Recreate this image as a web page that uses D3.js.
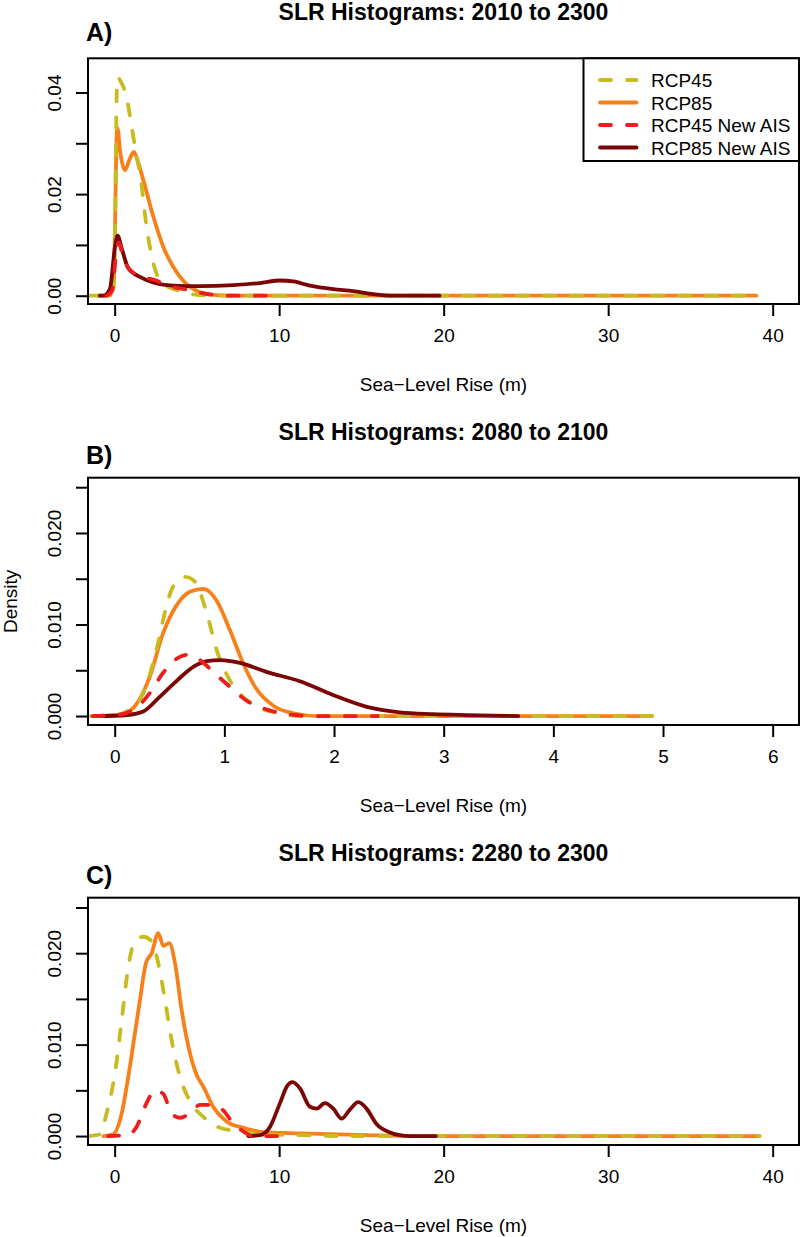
<!DOCTYPE html>
<html><head><meta charset="utf-8">
<script src="https://cdn.jsdelivr.net/npm/d3@7"></script>
<style>body{margin:0;background:#fff}svg{display:block}text{font-family:"Liberation Sans",Arial,sans-serif;fill:#000}</style>
</head><body>
<script>
// ---------- DATA ----------
const seriesNames = ["RCP45", "RCP85", "RCP45 New AIS", "RCP85 New AIS"];
const panelTitles = ["SLR Histograms: 2010 to 2300", "SLR Histograms: 2080 to 2100", "SLR Histograms: 2280 to 2300"];
const panelLetters = ["A)", "B)", "C)"];
const xLabel = "Sea\u2212Level Rise (m)";
const yLabel = "Density";
const xTicksA = [0, 10, 20, 30, 40];
const xTicksB = [0, 1, 2, 3, 4, 5, 6];
const xTicksC = [0, 10, 20, 30, 40];
const yTicksA = [0, 0.01, 0.02, 0.03, 0.04];
const yLabelsA = ["0.00", null, "0.02", null, "0.04"];
const yTicksBC = [0, 0.005, 0.01, 0.015, 0.02, 0.025];
const yLabelsBC = ["0.000", null, "0.010", null, "0.020", null];

// Panel A (2010-2300)
const A_RCP45 = [[-1.55,0],[-0.3,0],[-0.05,0.002],[0.02,0.012],[0.08,0.03],[0.16,0.043],[0.4,0.042],[0.73,0.039],[1.0,0.034],[1.25,0.029],[1.54,0.024],[1.94,0.0136],[2.35,0.0064],[2.95,0.0024],[3.97,0.0009],[5.2,0.0001],[6.5,0],[39.0,0]];
const A_RCP85 = [[-1.0,0],[-0.3,0],[-0.05,0.003],[0.03,0.015],[0.1,0.029],[0.16,0.0331],[0.35,0.028],[0.63,0.0247],[0.9,0.0268],[1.17,0.0283],[1.45,0.026],[1.74,0.0228],[2.35,0.0156],[2.96,0.0096],[3.56,0.0057],[4.37,0.0023],[5.19,0.0007],[6.2,0.0001],[7.5,0],[39.0,0]];
const A_RCP45AIS = [[-0.5,0],[-0.15,0.001],[0.05,0.007],[0.25,0.0105],[0.45,0.0085],[0.7,0.0062],[1.0,0.0049],[1.5,0.0039],[2.45,0.0031],[3.2,0.002],[4.4,0.0012],[5.2,0.0006],[6.2,0.0001],[7.0,0],[10.0,0]];
const A_RCP85AIS = [[-0.9,0],[-0.69,0],[-0.29,0.0013],[0.02,0.0096],[0.18,0.0118],[0.43,0.0093],[0.83,0.0054],[1.54,0.0037],[2.35,0.0026],[3.56,0.002],[5.19,0.0019],[7.21,0.0021],[8.83,0.0025],[10.05,0.003],[10.86,0.0028],[11.87,0.002],[13.29,0.0013],[14.5,0.0009],[15.72,0.0003],[16.94,0],[19.75,0]];

// Panel B (2080-2100)
const B_RCP45 = [[-0.22,0],[0.0,0.0001],[0.11,0.0005],[0.26,0.0025],[0.38,0.0072],[0.47,0.0119],[0.53,0.0141],[0.64,0.0152],[0.73,0.0147],[0.84,0.0112],[0.93,0.0072],[1.05,0.0039],[1.17,0.0021],[1.32,0.0009],[1.51,0.0003],[1.7,0],[4.9,0]];
const B_RCP85 = [[-0.2,0],[0.0,0.0001],[0.14,0.0006],[0.32,0.0043],[0.44,0.009],[0.57,0.0122],[0.69,0.0136],[0.81,0.0139],[0.93,0.0126],[1.05,0.0094],[1.17,0.0058],[1.29,0.003],[1.45,0.0011],[1.63,0.0003],[1.85,0],[4.9,0]];
const B_RCP45AIS = [[-0.2,0],[0.0,0.0001],[0.16,0.0006],[0.32,0.0025],[0.44,0.0047],[0.57,0.0063],[0.67,0.0067],[0.78,0.0061],[0.9,0.0048],[1.05,0.0032],[1.2,0.0017],[1.39,0.0007],[1.57,0.0002],[1.8,0],[2.4,0]];
const B_RCP85AIS = [[-0.19,0],[0.0,0.00003],[0.11,0.0001],[0.26,0.0005],[0.41,0.0021],[0.57,0.0039],[0.72,0.0054],[0.84,0.006],[0.96,0.0061],[1.14,0.0058],[1.39,0.0048],[1.69,0.0038],[1.99,0.0023],[2.3,0.001],[2.6,0.0004],[2.9,0.0002],[3.21,0.0001],[3.68,0]];

// Panel C (2280-2300)
const C_RCP45 = [[-1.6,0],[-0.89,0.0002],[-0.49,0.0025],[0.02,0.0069],[0.43,0.0127],[0.83,0.0185],[1.23,0.0213],[1.74,0.0218],[2.25,0.0213],[2.65,0.0189],[3.06,0.0149],[3.46,0.0105],[3.97,0.0065],[4.58,0.0038],[5.39,0.0021],[6.4,0.0009],[7.62,0.0005],[9.24,0.0002],[11.27,0.0001],[14.0,0],[39.2,0]];
const C_RCP85 = [[-0.69,0],[-0.09,0.0002],[0.43,0.0025],[0.83,0.0065],[1.23,0.0112],[1.54,0.0149],[1.9,0.0189],[2.25,0.02],[2.65,0.0222],[2.96,0.0208],[3.32,0.0211],[3.67,0.0189],[4.07,0.0138],[4.48,0.0098],[4.98,0.0067],[5.39,0.0054],[5.99,0.0032],[6.81,0.0016],[7.82,0.0009],[9.24,0.0004],[11.27,0.0003],[15.3,0.0001],[18.0,0],[39.2,0]];
const C_RCP45AIS = [[-0.4,0],[0.8,0.0001],[1.33,0.001],[1.94,0.0036],[2.45,0.005],[2.96,0.0046],[3.45,0.0025],[3.97,0.002],[4.58,0.0025],[5.19,0.0034],[6.0,0.0034],[6.6,0.0028],[7.21,0.0014],[7.82,0.0005],[8.43,0],[10.1,0]];
const C_RCP85AIS = [[8.12,0],[8.83,0.0001],[9.44,0.001],[10.05,0.0036],[10.46,0.0054],[10.82,0.0059],[11.27,0.0052],[11.87,0.0032],[12.28,0.003],[12.78,0.0036],[13.29,0.003],[13.8,0.0019],[14.3,0.0029],[14.81,0.0037],[15.31,0.003],[15.93,0.0013],[16.74,0.0004],[17.34,0.0001],[18.0,0],[19.53,0]];

// ---------- STYLE / LAYOUT ----------
const colors = {"RCP45":"#c8bb20","RCP85":"#f7801a","RCP45 New AIS":"#ee1d1d","RCP85 New AIS":"#7c0505"};
const dashed = {"RCP45":true,"RCP85":false,"RCP45 New AIS":true,"RCP85 New AIS":false};
const drawOrder = ["RCP85","RCP45","RCP85 New AIS","RCP45 New AIS"];

const panels = [
  {box:[88,58.3,799,304], xdom:[-1.62,41.6], ydom:[-0.00163,0.04673], xt:xTicksA, yt:yTicksA, yl:yLabelsA, titleY:19.5, letterY:41,
   data:{"RCP45":A_RCP45,"RCP85":A_RCP85,"RCP45 New AIS":A_RCP45AIS,"RCP85 New AIS":A_RCP85AIS}, legend:true},
  {box:[88,477.7,799,725], xdom:[-0.2435,6.24], ydom:[-0.00098,0.02604], xt:xTicksB, yt:yTicksBC, yl:yLabelsBC, titleY:440, letterY:463.5,
   data:{"RCP45":B_RCP45,"RCP85":B_RCP85,"RCP45 New AIS":B_RCP45AIS,"RCP85 New AIS":B_RCP85AIS}, ylab:true},
  {box:[88,897.7,799,1145], xdom:[-1.62,41.6], ydom:[-0.00098,0.02607], xt:xTicksC, yt:yTicksBC, yl:yLabelsBC, titleY:861, letterY:883.5,
   data:{"RCP45":C_RCP45,"RCP85":C_RCP85,"RCP45 New AIS":C_RCP45AIS,"RCP85 New AIS":C_RCP85AIS}}
];

const svg = d3.select("body").append("svg").attr("width",802).attr("height",1237);
const lw = 3.8, dash = "11,16";

panels.forEach((p,i)=>{
  const [x0,y0,x1,y1] = p.box;
  const x = d3.scaleLinear().domain(p.xdom).range([x0,x1]);
  const y = d3.scaleLinear().domain(p.ydom).range([y1,y0]);
  const g = svg.append("g");
  const cx = (x0+x1)/2;

  g.append("text").attr("x",cx).attr("y",p.titleY).attr("text-anchor","middle")
    .style("font-size","23px").style("font-weight","bold").text(panelTitles[i]);
  g.append("text").attr("x",86).attr("y",p.letterY)
    .style("font-size","25px").style("font-weight","bold").text(panelLetters[i]);

  const line = d3.line().x(d=>x(d[0])).y(d=>y(d[1])).curve(d3.curveMonotoneX);
  drawOrder.forEach(name=>{
    g.append("path").datum(p.data[name]).attr("d",line)
      .attr("fill","none").attr("stroke",colors[name]).attr("stroke-width",lw)
      .attr("stroke-linecap","round").attr("stroke-linejoin","round")
      .attr("stroke-dasharray",dashed[name]?dash:null);
  });

  // box
  g.append("rect").attr("x",x0).attr("y",y0).attr("width",x1-x0).attr("height",y1-y0)
    .attr("fill","none").attr("stroke","#000").attr("stroke-width",2);

  // x axis
  const xa = g.append("g").attr("transform",`translate(0,${y1})`)
    .call(d3.axisBottom(x).tickValues(p.xt).tickSize(12).tickSizeOuter(0).tickPadding(13).tickFormat(d3.format("d")));
  xa.select(".domain").attr("d",`M${x(p.xt[0])},0H${x(p.xt[p.xt.length-1])}`).attr("stroke","none");
  xa.selectAll(".tick line").attr("stroke","#000").attr("stroke-width",2);
  xa.selectAll(".tick text").style("font-size","19px").style("font-family","Liberation Sans, Arial, sans-serif").attr("fill","#000");

  // y axis
  const ya = g.append("g").attr("transform",`translate(${x0},0)`)
    .call(d3.axisLeft(y).tickValues(p.yt).tickSize(12).tickSizeOuter(0).tickFormat((d,k)=>p.yl[k]||""));
  ya.select(".domain").attr("stroke","none");
  ya.selectAll(".tick line").attr("stroke","#000").attr("stroke-width",2);
  ya.selectAll(".tick text").attr("x",null).attr("dy",null)
    .attr("transform","translate(-27,0) rotate(-90)").attr("text-anchor","middle")
    .style("font-size","19px").style("font-family","Liberation Sans, Arial, sans-serif").attr("fill","#000");

  g.append("text").attr("x",cx).attr("y",y1+87).attr("text-anchor","middle").style("font-size","19px").text(xLabel);
  if(p.ylab){
    g.append("text").attr("transform",`translate(17,${(y0+y1)/2}) rotate(-90)`).attr("text-anchor","middle")
      .style("font-size","19px").text(yLabel);
  }

  if(p.legend){
    const lx0=583.5, ly0=y0, lx1=x1, ly1=161;
    g.append("rect").attr("x",lx0).attr("y",ly0).attr("width",lx1-lx0).attr("height",ly1-ly0)
      .attr("fill","#fff").attr("stroke","#000").attr("stroke-width",2);
    seriesNames.forEach((name,k)=>{
      const yy = 80 + k*22.5;
      g.append("line").attr("x1",600).attr("x2",636.5).attr("y1",yy).attr("y2",yy)
        .attr("stroke",colors[name]).attr("stroke-width",lw).attr("stroke-linecap","round")
        .attr("stroke-dasharray",dashed[name]?dash:null);
      g.append("text").attr("x",651).attr("y",yy+7).style("font-size","19px").text(name);
    });
  }
});
</script>
</body></html>
